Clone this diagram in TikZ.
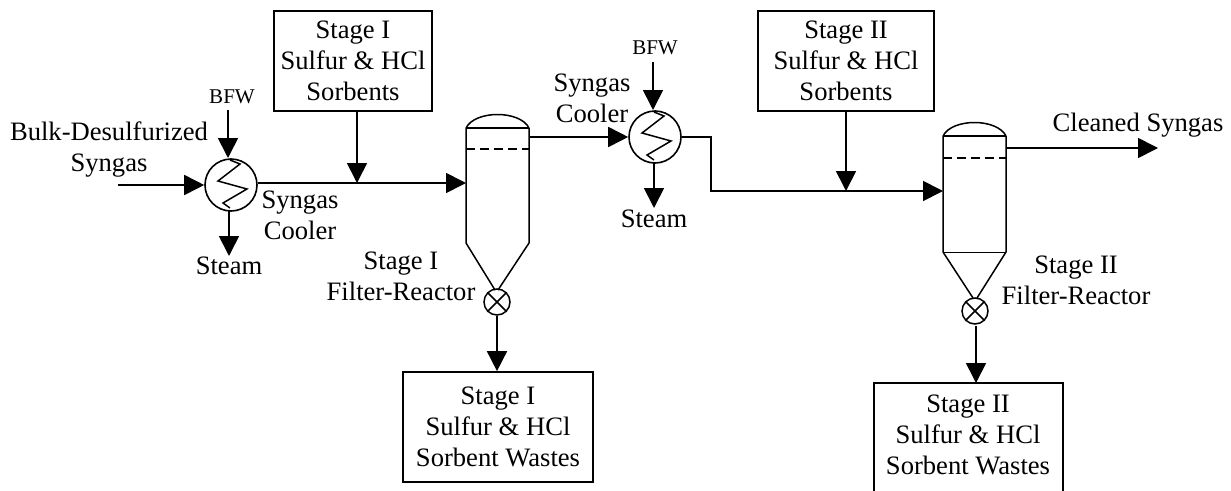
\documentclass[tikz,border=0pt]{standalone}
\usepackage{fontspec}
\setmainfont{Liberation Serif}
\usetikzlibrary{arrows.meta}
\tikzset{
  flow/.style={line width=1.7pt,-{Triangle[length=20pt,width=20pt]}},
  vessel/.style={line width=1.5pt,line join=round},
  procbox/.style={draw,line width=1.7pt,align=center,inner sep=0pt,font=\fontsize{26.6}{31}\selectfont},
  lbl/.style={align=center,inner sep=0pt,font=\fontsize{26.6}{31}\selectfont},
  smalllbl/.style={inner sep=0pt,font=\fontsize{21}{24}\selectfont},
  cooler/.style={circle,draw,line width=1.6pt,fill=white,minimum size=52pt,inner sep=0pt},
  valvec/.style={circle,draw,line width=1.5pt,minimum size=26pt,inner sep=0pt},
}
\begin{document}
\begin{tikzpicture}[x=1pt,y=-1pt]
\useasboundingbox (0,0) rectangle (1231,490);
\clip (0,0) rectangle (1231,490);
% boxes
\node[procbox,minimum width=158pt,minimum height=100pt] (b1) at (353,61) {Stage I\\Sulfur \& HCl\\Sorbents};
\node[procbox,minimum width=176pt,minimum height=100pt] (b2) at (846,61) {Stage II\\Sulfur \& HCl\\Sorbents};
\node[procbox,minimum width=190pt,minimum height=110pt] (b3) at (498,427) {Stage I\\Sulfur \& HCl\\Sorbent Wastes};
\draw[line width=1.7pt] (874,500) -- (874,383) -- (1063,383) -- (1063,500);
\node[lbl] (b4t) at (968,435) {Stage II\\Sulfur \& HCl\\Sorbent Wastes};
\coordinate (b4top) at (976,383);
% coolers
\node[cooler] (c1) at (231,185) {};
\node[cooler] (c2) at (655,137) {};
\draw[line width=1.5pt] (230,160) -- (240,164) -- (218,181) -- (247,189) -- (223,203) -- (230,208);
\draw[line width=1.5pt] (654,112) -- (664,116) -- (642,133) -- (671,141) -- (647,155) -- (654,160);
% reactor 1
\coordinate (r1in) at (466,183);
\coordinate (r1out) at (529,137);
\draw[vessel] (466,128) -- (466,243) -- (495,290);
\draw[vessel] (529,128) -- (529,243) -- (498,290);
\draw[vessel] (466,128) -- (529,128);
\draw[vessel] (466,128) .. controls (475,110) and (520,110) .. (529,128);
\draw[vessel,dash pattern=on 9pt off 5pt] (466,149) -- (529,149);
\node[valvec] (v1) at (497,302) {};
\draw[line width=1.5pt] (v1.north west) -- (v1.south east) (v1.north east) -- (v1.south west);
% reactor 2
\coordinate (r2in) at (943,191);
\coordinate (r2out) at (1006,148);
\draw[vessel] (943,136) -- (943,252) -- (973,298);
\draw[vessel] (1006,136) -- (1006,252) -- (977,298);
\draw[vessel] (943,136) -- (1006,136);
\draw[line width=.7pt] (943,252) -- (1006,252);
\draw[vessel] (943,136) .. controls (952,118) and (997,118) .. (1006,136);
\draw[vessel,dash pattern=on 9pt off 5pt] (943,158) -- (1006,158);
\node[valvec] (v2) at (975,311) {};
\draw[line width=1.5pt] (v2.north west) -- (v2.south east) (v2.north east) -- (v2.south west);
% connectors
\coordinate (feed) at (118,185);
\coordinate (bfw1) at (228,110);
\coordinate (st1) at (229,256);
\coordinate (j1) at (357,183);
\draw[flow] (feed) -- (c1.west);
\draw[flow] (bfw1) -- (228,158);
\draw[flow] (229,211) -- (st1);
\draw[flow] (c1.east |- j1) -- (r1in);
\draw[flow] (b1.south -| j1) -- (j1);
\draw[flow] (r1out) -- (c2.west);
\coordinate (bfw2) at (653,62);
\coordinate (st2) at (654,208);
\draw[flow] (bfw2) -- (653,110);
\draw[flow] (654,163) -- (st2);
\coordinate (k1) at (711,137);
\coordinate (k2) at (711,191);
\coordinate (j2) at (846,191);
\draw[flow] (c2.east) -- (k1) -- (k2) -- (r2in);
\draw[flow] (b2.south -| j2) -- (j2);
\draw[flow] (v1.south) -- (b3.north -| v1);
\draw[flow] (976,326) -- (b4top);
\coordinate (clean) at (1158,148);
\draw[flow] (r2out) -- (clean);
% labels
\node[lbl] (t1) at (109,150) {Bulk-Desulfurized\\Syngas};
\node[smalllbl] (t2) at (232,97) {BFW};
\node[lbl] (t3) at (300,215) {Syngas\\Cooler};
\node[lbl] (t5) at (229,266) {Steam};
\node[lbl] (t6) at (401,276) {Stage I\\Filter-Reactor};
\node[lbl] (t7) at (654,219) {Steam};
\node[smalllbl] (t8) at (655,48) {BFW};
\node[lbl] (t9) at (592,98) {Syngas\\Cooler};
\node[lbl] (t10) at (1076,280) {Stage II\\Filter-Reactor};
\node[lbl] (t11) at (1138,125) {Cleaned Syngas};
\end{tikzpicture}
\end{document}
